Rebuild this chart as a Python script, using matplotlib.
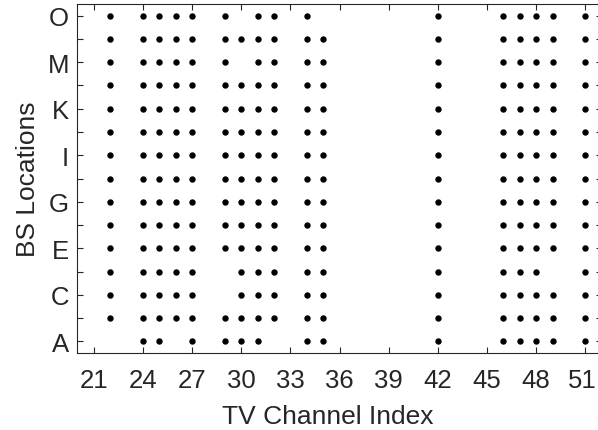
import matplotlib
matplotlib.use("Agg")
import matplotlib.pyplot as plt
import matplotlib.transforms as mtransforms

plt.rcParams['font.family'] = ['Liberation Sans', 'DejaVu Sans']

locations = list("ABCDEFGHIJKLMNO")
availability = {
    "A": [24, 25, 27, 29, 30, 31, 34, 35, 42, 46, 47, 48, 49, 51],
    "B": [22, 24, 25, 26, 27, 29, 30, 31, 32, 34, 35, 42, 46, 47, 48, 49, 51],
    "C": [22, 24, 25, 26, 27, 30, 31, 32, 34, 35, 42, 46, 47, 48, 49, 51],
    "D": [22, 24, 25, 26, 27, 30, 31, 32, 34, 35, 42, 46, 47, 48, 51],
    "E": [22, 24, 25, 26, 27, 29, 30, 31, 32, 34, 35, 42, 46, 47, 48, 49, 51],
    "F": [22, 24, 25, 26, 27, 29, 30, 31, 32, 34, 35, 42, 46, 47, 48, 49, 51],
    "G": [22, 24, 25, 26, 27, 29, 30, 31, 32, 34, 35, 42, 46, 47, 48, 49, 51],
    "H": [22, 24, 25, 26, 27, 29, 30, 31, 32, 34, 35, 42, 46, 47, 48, 49, 51],
    "I": [22, 24, 25, 26, 27, 29, 30, 31, 32, 34, 35, 42, 46, 47, 48, 49, 51],
    "J": [22, 24, 25, 26, 27, 29, 30, 31, 32, 34, 35, 42, 46, 47, 48, 49, 51],
    "K": [22, 24, 25, 26, 27, 29, 30, 31, 32, 34, 35, 42, 46, 47, 48, 49, 51],
    "L": [22, 24, 25, 26, 27, 29, 30, 31, 32, 34, 35, 42, 46, 47, 48, 49, 51],
    "M": [22, 24, 25, 26, 27, 29, 31, 32, 34, 35, 42, 46, 47, 48, 49, 51],
    "N": [22, 24, 25, 26, 27, 29, 30, 31, 32, 34, 35, 42, 46, 47, 48, 49, 51],
    "O": [22, 24, 25, 26, 27, 29, 31, 32, 34, 42, 46, 47, 48, 49, 51],
}
x_ticks = list(range(21, 52, 3))
y_tick_labels = ["A", "", "C", "", "E", "", "G", "", "I", "", "K", "", "M", "", "O"]

fig = plt.figure(figsize=(5.98, 4.31), dpi=100)
ax = fig.add_axes([77.3 / 598, 77 / 431, 524.4 / 598, 349 / 431])

for i, loc in enumerate(locations):
    xs = availability[loc]
    ax.plot(xs, [i + 1] * len(xs), 'o', color='black', markersize=4.6,
            markeredgewidth=0, linestyle='none', clip_on=False)

ax.set_xlim(20, 52)
ax.set_ylim(0.5, 15.5)
ax.set_xticks(x_ticks)
ax.set_yticks(range(1, 16))
ax.set_yticklabels(y_tick_labels)

edge = '#262626'
for s in ax.spines.values():
    s.set_color(edge)
    s.set_linewidth(0.8)

ax.tick_params(axis='both', direction='in', length=4, width=0.8, color=edge,
               labelsize=18.5, top=True, right=True, labelcolor='#262626')
ax.tick_params(axis='x', pad=10.5)
ax.tick_params(axis='y', pad=6)

# nudge the last x tick label slightly left so it stays inside the figure
last_label = ax.get_xticklabels()[-1]
last_label.set_transform(last_label.get_transform() +
                         mtransforms.ScaledTranslation(-3 / 100, 0, fig.dpi_scale_trans))

ax.set_xlabel("TV Channel Index", fontsize=19, color='#262626', va='baseline')
ax.xaxis.set_label_coords((328 - 77.3) / 524.4, (431 - 424 - 77) / 349)
ax.set_ylabel("BS Locations", fontsize=19, color='#262626', va='baseline')
ax.yaxis.set_label_coords((35 - 77.3) / 524.4, 0.5)

fig.savefig("out.png", dpi=100)
